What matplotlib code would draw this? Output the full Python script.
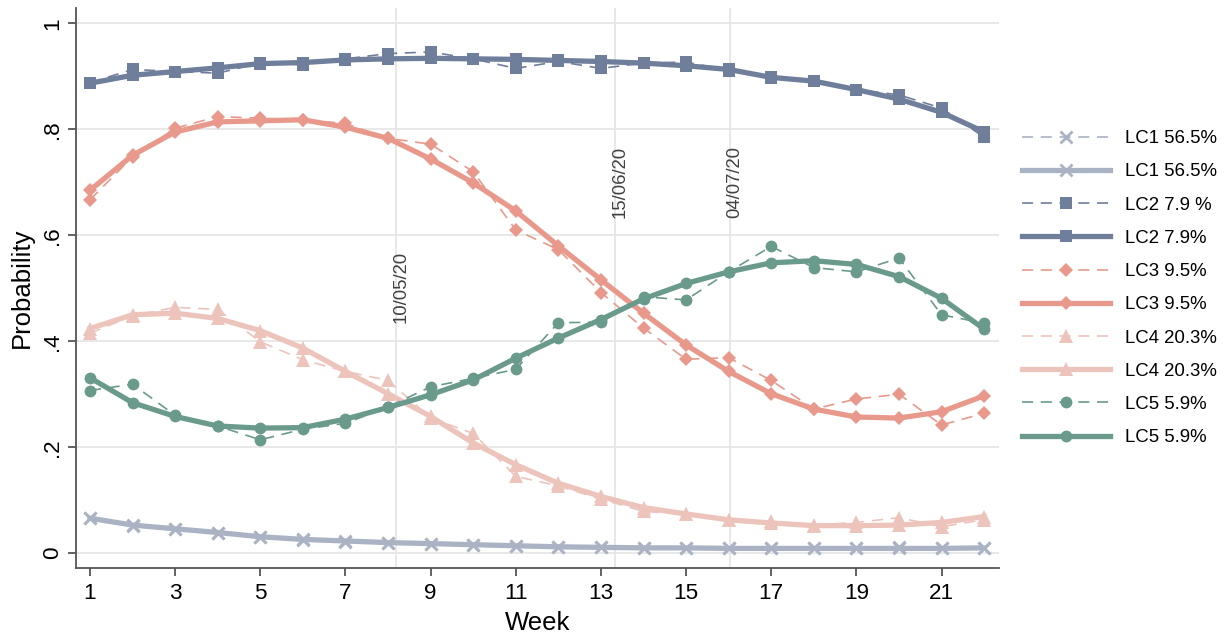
"""Latent class trajectories: observed (dashed) vs estimated (solid) probability by week."""

import matplotlib

matplotlib.use("Agg")
import matplotlib.pyplot as plt  # noqa: E402

plt.rcParams["font.family"] = ["Liberation Sans", "DejaVu Sans"]
plt.rcParams["lines.scale_dashes"] = False

weeks = list(range(1, 23))

lc1_obs = [0.066, 0.052, 0.046, 0.038, 0.030, 0.025, 0.022, 0.020, 0.018, 0.016, 0.013,
           0.012, 0.011, 0.010, 0.010, 0.009, 0.009, 0.009, 0.009, 0.011, 0.009, 0.009]
lc1_fit = [0.066, 0.053, 0.046, 0.039, 0.031, 0.026, 0.023, 0.020, 0.018, 0.016, 0.014,
           0.012, 0.011, 0.010, 0.010, 0.009, 0.009, 0.009, 0.009, 0.009, 0.009, 0.010]

lc2_obs = [0.888, 0.913, 0.909, 0.906, 0.925, 0.922, 0.933, 0.943, 0.946, 0.933, 0.915,
           0.928, 0.915, 0.925, 0.927, 0.911, 0.896, 0.891, 0.875, 0.865, 0.840, 0.785]
lc2_fit = [0.887, 0.902, 0.909, 0.916, 0.924, 0.926, 0.931, 0.933, 0.934, 0.933, 0.932,
           0.930, 0.928, 0.925, 0.920, 0.913, 0.898, 0.891, 0.875, 0.857, 0.832, 0.795]

lc3_obs = [0.667, 0.748, 0.802, 0.824, 0.821, 0.818, 0.811, 0.783, 0.772, 0.720, 0.610,
           0.573, 0.492, 0.425, 0.366, 0.369, 0.326, 0.272, 0.291, 0.300, 0.242, 0.264]
lc3_fit = [0.685, 0.751, 0.795, 0.814, 0.816, 0.818, 0.804, 0.783, 0.744, 0.699, 0.646,
           0.580, 0.516, 0.453, 0.393, 0.343, 0.301, 0.272, 0.257, 0.255, 0.267, 0.297]

lc4_obs = [0.415, 0.448, 0.464, 0.460, 0.399, 0.365, 0.343, 0.326, 0.255, 0.226, 0.145,
           0.127, 0.102, 0.079, 0.073, 0.062, 0.060, 0.053, 0.058, 0.067, 0.050, 0.063]
lc4_fit = [0.424, 0.450, 0.453, 0.443, 0.420, 0.387, 0.343, 0.301, 0.258, 0.208, 0.167,
           0.132, 0.107, 0.086, 0.074, 0.063, 0.057, 0.052, 0.052, 0.053, 0.058, 0.069]

lc5_obs = [0.307, 0.319, 0.260, 0.240, 0.214, 0.234, 0.245, 0.276, 0.314, 0.330, 0.347,
           0.435, 0.436, 0.484, 0.478, 0.531, 0.579, 0.539, 0.531, 0.557, 0.450, 0.434]
lc5_fit = [0.331, 0.284, 0.258, 0.240, 0.236, 0.237, 0.253, 0.275, 0.299, 0.327, 0.368,
           0.406, 0.441, 0.480, 0.509, 0.531, 0.548, 0.552, 0.545, 0.522, 0.481, 0.423]

obs_labels = ["LC1 56.5%", "LC2 7.9 %", "LC3 9.5%", "LC4 20.3%", "LC5 5.9%"]
fit_labels = ["LC1 56.5%", "LC2 7.9%", "LC3 9.5%", "LC4 20.3%", "LC5 5.9%"]

event_weeks = [8.18, 13.33, 16.03]
event_labels = ["10/05/20", "15/06/20", "04/07/20"]

x_ticks = list(range(1, 22, 2))
y_ticks = [0, 0.2, 0.4, 0.6, 0.8, 1.0]
y_tick_labels = ["0", ".2", ".4", ".6", ".8", "1"]


def main() -> None:
    fig = plt.figure(figsize=(12.27, 6.39), dpi=100)
    ax = fig.add_axes([0.0617, 0.1111, 0.7525, 0.8764])

    # colour, marker, marker size per class
    styles = [
        ("#a9b3c4", "x", 8.5),
        ("#6e7e9b", "s", 8.5),
        ("#e8998b", "D", 7.0),
        ("#ecc4bc", "^", 10.0),
        ("#6a9a8b", "o", 8.5),
    ]
    obs = [lc1_obs, lc2_obs, lc3_obs, lc4_obs, lc5_obs]
    fit = [lc1_fit, lc2_fit, lc3_fit, lc4_fit, lc5_fit]

    for (color, marker, ms), o, f, lo, lf in zip(styles, obs, fit, obs_labels, fit_labels):
        mew = 2.0 if marker == "x" else 0
        ax.plot(weeks, o, color=color, lw=1.2, dashes=(8, 5.5), marker=marker, ms=ms,
                mew=mew, mec=color, label=lo, zorder=3)
        ax.plot(weeks, f, color=color, lw=3.8, marker=marker, ms=ms,
                mew=mew, mec=color, label=lf, zorder=3)

    for wk in event_weeks:
        ax.axvline(wk, color="#e6e6e6", lw=1.3, zorder=1)
    label_y = [0.434, 0.633, 0.633]
    for wk, lab, yy in zip(event_weeks, event_labels, label_y):
        ax.text(wk + 0.12, yy, lab, rotation=90, ha="center", va="bottom",
                fontsize=13.3, color="#404040", zorder=2)

    ax.set_xlim(0.664, 22.35)
    ax.set_ylim(-0.028, 1.029)
    ax.set_xticks(x_ticks)
    ax.set_yticks(y_ticks)
    ax.set_yticklabels(y_tick_labels, rotation=90, va="center")
    ax.grid(axis="y", color="#e6e6e6", lw=1.3, zorder=0)
    ax.set_axisbelow(True)

    for side in ("top", "right"):
        ax.spines[side].set_visible(False)
    for side in ("left", "bottom"):
        ax.spines[side].set_color("#555555")
        ax.spines[side].set_linewidth(1.3)
    ax.tick_params(axis="both", length=6, width=1.3, color="#555555", labelsize=16.2)
    ax.tick_params(axis="x", pad=5)
    ax.tick_params(axis="y", pad=3)

    ax.set_xlabel("Week", fontsize=18.5, labelpad=5)
    ax.set_ylabel("Probability", fontsize=18.5, labelpad=6)

    ax.legend(loc="center left", bbox_to_anchor=(0.8327, 0.549), bbox_transform=fig.transFigure,
              frameon=False, fontsize=13.4, numpoints=1, handlelength=4.75, handletextpad=0.8,
              labelspacing=0.87, borderpad=0, borderaxespad=0)

    fig.savefig("out.png", dpi=100)


if __name__ == "__main__":
    main()
